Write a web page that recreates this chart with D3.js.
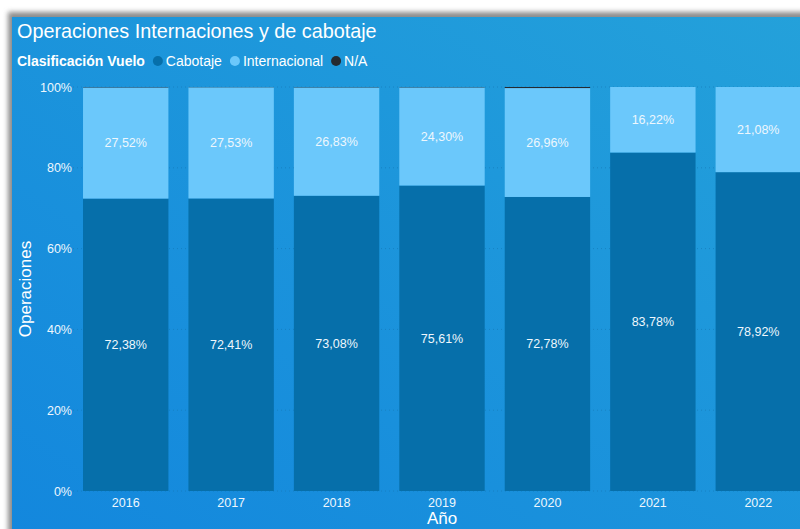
<!DOCTYPE html>
<html>
<head>
<meta charset="utf-8">
<script src="https://cdn.jsdelivr.net/npm/d3@7"></script>
<style>
  html, body { margin: 0; padding: 0; background: #ffffff; overflow: hidden; }
  svg { display: block; font-family: "Liberation Sans", Arial, sans-serif; }
</style>
</head>
<body>
<svg id="chart" width="800" height="529"></svg>
<script>
// Años y porcentajes por clasificación de vuelo
const years = ["2016", "2017", "2018", "2019", "2020", "2021", "2022"];
const cabotaje = [72.38, 72.41, 73.08, 75.61, 72.78, 83.78, 78.92];
const internacional = [27.52, 27.53, 26.83, 24.30, 26.96, 16.22, 21.08];
const na = [0.10, 0.06, 0.09, 0.09, 0.26, 0.00, 0.00];
const yTicks = [0, 20, 40, 60, 80, 100];

const seriesNames = ["Cabotaje", "Internacional", "N/A"];
const colors = { "Cabotaje": "#066faa", "Internacional": "#6bc8fb", "N/A": "#252a30" };

const rows = years.map((y, i) => ({
  year: y, "Cabotaje": cabotaje[i], "Internacional": internacional[i], "N/A": na[i]
}));

const svg = d3.select("#chart");

// Tarjeta con sombra y degradado
const defs = svg.append("defs");
const grad = defs.append("linearGradient")
  .attr("id", "bg").attr("x1", "100%").attr("y1", "0%").attr("x2", "0%").attr("y2", "100%");
grad.append("stop").attr("offset", "0%").attr("stop-color", "#24a1da");
grad.append("stop").attr("offset", "100%").attr("stop-color", "#1387dd");
const blur = defs.append("filter").attr("id", "shadow")
  .attr("x", "-10%").attr("y", "-10%").attr("width", "120%").attr("height", "120%");
blur.append("feGaussianBlur").attr("stdDeviation", 2.5);

svg.append("rect").attr("x", 8).attr("y", 12).attr("width", 820).attr("height", 540)
  .attr("fill", "#8c8c8c").attr("filter", "url(#shadow)");
svg.append("rect").attr("x", 12).attr("y", 17).attr("width", 800).attr("height", 520)
  .attr("fill", "url(#bg)");

// Título
svg.append("text").attr("x", 17).attr("y", 38)
  .attr("fill", "#ffffff").attr("font-size", 19.8)
  .text("Operaciones Internaciones y de cabotaje");

// Leyenda
const legend = svg.append("g").attr("transform", "translate(17,66)");
const lt = legend.append("text").attr("x", 0).attr("y", 0)
  .attr("fill", "#ffffff").attr("font-size", 14).attr("font-weight", "bold")
  .text("Clasificación Vuelo");
let lx = lt.node().getComputedTextLength() + 13;
seriesNames.forEach(name => {
  legend.append("circle").attr("cx", lx).attr("cy", -5).attr("r", 5).attr("fill", colors[name]);
  const t = legend.append("text").attr("x", lx + 8).attr("y", 0)
    .attr("fill", "#ffffff").attr("font-size", 14).text(name);
  lx += 8 + t.node().getComputedTextLength() + 13;
});

// Escalas
const plotTop = 87, plotBottom = 491;
const x = d3.scaleBand().domain(years).range([73, 811]).paddingInner(0.19).paddingOuter(0.095);
const y = d3.scaleLinear().domain([0, 100]).range([plotBottom, plotTop]);

// Líneas de cuadrícula punteadas
svg.append("g").selectAll("line").data(yTicks).join("line")
  .attr("x1", 73).attr("x2", 811)
  .attr("y1", d => y(d)).attr("y2", d => y(d))
  .attr("stroke", "#1477b4").attr("stroke-opacity", 0.6)
  .attr("stroke-dasharray", "1,3");

// Barras apiladas
const stack = d3.stack().keys(seriesNames)(rows);
const layers = svg.append("g").selectAll("g").data(stack).join("g")
  .attr("fill", d => colors[d.key]);
layers.selectAll("rect").data(d => d).join("rect")
  .attr("x", d => x(d.data.year))
  .attr("width", x.bandwidth())
  .attr("y", d => y(d[1]))
  .attr("height", d => Math.max(0, y(d[0]) - y(d[1])));

// Etiquetas de datos
const fmt = v => v.toFixed(2).replace(".", ",") + "%";
["Cabotaje", "Internacional"].forEach(key => {
  const layer = stack.find(s => s.key === key);
  svg.append("g").selectAll("text").data(layer).join("text")
    .attr("x", d => x(d.data.year) + x.bandwidth() / 2)
    .attr("y", d => y((d[0] + d[1]) / 2))
    .attr("dy", "0.35em")
    .attr("text-anchor", "middle")
    .attr("fill", "#eef7fd").attr("font-size", 12.5)
    .text(d => fmt(d.data[key]));
});

// Eje Y
const yAxis = svg.append("g").attr("transform", "translate(72,0)")
  .call(d3.axisLeft(y).tickValues(yTicks).tickFormat(d => d + "%").tickSize(0).tickPadding(0));
yAxis.select(".domain").remove();
yAxis.selectAll("text").attr("fill", "#eef7fd").attr("font-size", 12.5)
  .attr("font-family", "Liberation Sans, Arial, sans-serif");

// Eje X
const xAxis = svg.append("g").attr("transform", `translate(0,${plotBottom})`)
  .call(d3.axisBottom(x).tickSize(0).tickPadding(7));
xAxis.select(".domain").remove();
xAxis.selectAll("text").attr("fill", "#eef7fd").attr("font-size", 12.5)
  .attr("font-family", "Liberation Sans, Arial, sans-serif");

// Títulos de ejes
svg.append("text").attr("transform", `translate(31,${(plotTop + plotBottom) / 2}) rotate(-90)`)
  .attr("text-anchor", "middle").attr("fill", "#ffffff").attr("font-size", 17)
  .text("Operaciones");
svg.append("text").attr("x", 442).attr("y", 524)
  .attr("text-anchor", "middle").attr("fill", "#ffffff").attr("font-size", 17)
  .text("Año");
</script>
</body>
</html>
